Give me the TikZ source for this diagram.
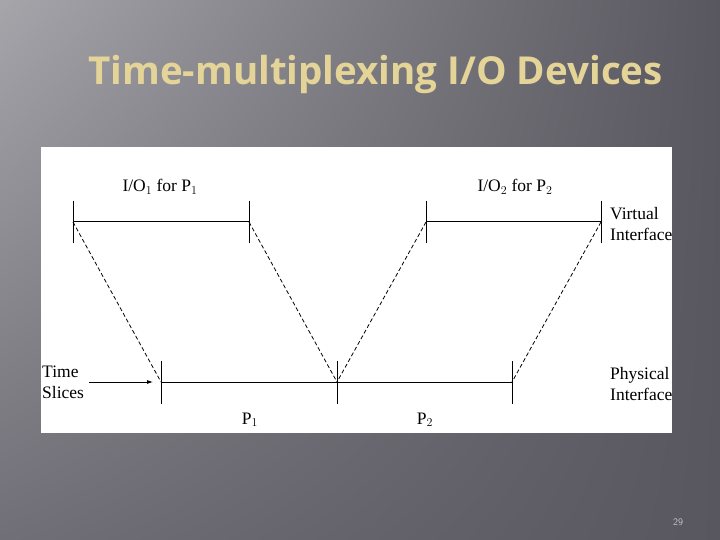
\documentclass[tikz,border=0pt]{standalone}
\usepackage{fontspec}
\setmainfont{Liberation Serif}
\newfontfamily\titlefont{Open Sans}
\usetikzlibrary{arrows.meta,calc,shadings}
\definecolor{bgL}{RGB}{165,165,170}
\definecolor{bgM}{RGB}{112,110,118}
\definecolor{bgR}{RGB}{88,86,94}
\definecolor{titletan}{RGB}{228,212,152}
\tikzset{
  tick/.style={line width=1pt},
  ioline/.style={line width=1pt},
  slant/.style={line width=0.8pt,dash pattern=on 4pt off 2.5pt},
  lbl/.style={inner sep=0pt,font=\fontsize{17.5}{21}\selectfont},
}
\begin{document}
\begin{tikzpicture}[x=1pt,y=-1pt]
   % slide background
   \shade[upper left=bgL,upper right=bgR,lower left=bgM,lower right=bgR] (0,0) rectangle (720,540);
   \useasboundingbox (0,0) rectangle (720,540);
   \node[anchor=base west,inner sep=0pt,text=titletan,font=\titlefont\bfseries\fontsize{38.5}{42}\selectfont] (title) at (88,85) {Time-multiplexing I/O Devices};
   \node[anchor=center,inner sep=0pt,text=gray!45,font=\sffamily\fontsize{10}{12}\selectfont] (pg) at (678,522) {29};
   % white panel
   \fill[white] (41,147) rectangle (672,433);
   \begin{scope}
   \clip (41,147) rectangle (672,433);
   % virtual interface points
   \coordinate (v1) at (73,222);
   \coordinate (v2) at (249,222);
   \coordinate (v3) at (426,222);
   \coordinate (v4) at (601,222);
   % physical interface points
   \coordinate (p1) at (161,382);
   \coordinate (p2) at (337,382);
   \coordinate (p3) at (512,382);
   \foreach \v in {v1,v2,v3,v4}
     \draw[tick] ($(\v)+(0,-21)$) -- ($(\v)+(0,21)$);
   \foreach \p in {p1,p2,p3}
     \draw[tick] ($(\p)+(0,-21)$) -- ($(\p)+(0,22)$);
   \draw[ioline] (v1) -- (v2);
   \draw[ioline] (v3) -- (v4);
   \draw[ioline] (p1) -- (p3);
   \draw[slant] (v1) -- (p1);
   \draw[slant] (v2) -- (p2);
   \draw[slant] (v3) -- (p2);
   \draw[slant] (v4) -- (p3);
   % labels
   \node[lbl,anchor=base] (io1) at (160,192) {I/O$_1$ for P$_1$};
   \node[lbl,anchor=base] (io2) at (515,192) {I/O$_2$ for P$_2$};
   \node[lbl,anchor=base] (pp1) at (250,424) {P$_1$};
   \node[lbl,anchor=base] (pp2) at (425,424) {P$_2$};
   \node[lbl,anchor=north west,align=left] (virt) at (610,207) {Virtual\\Interface};
   \node[lbl,anchor=north west,align=left] (phys) at (610,367) {Physical\\Interface};
   \node[lbl,anchor=north west,align=left] (slices) at (42,366) {Time\\Slices};
   \draw[-{Latex[length=6pt,width=4pt]},line width=0.8pt] (89,382) -- ($(p1)+(-8,0)$);
   \end{scope}
\end{tikzpicture}
\end{document}
